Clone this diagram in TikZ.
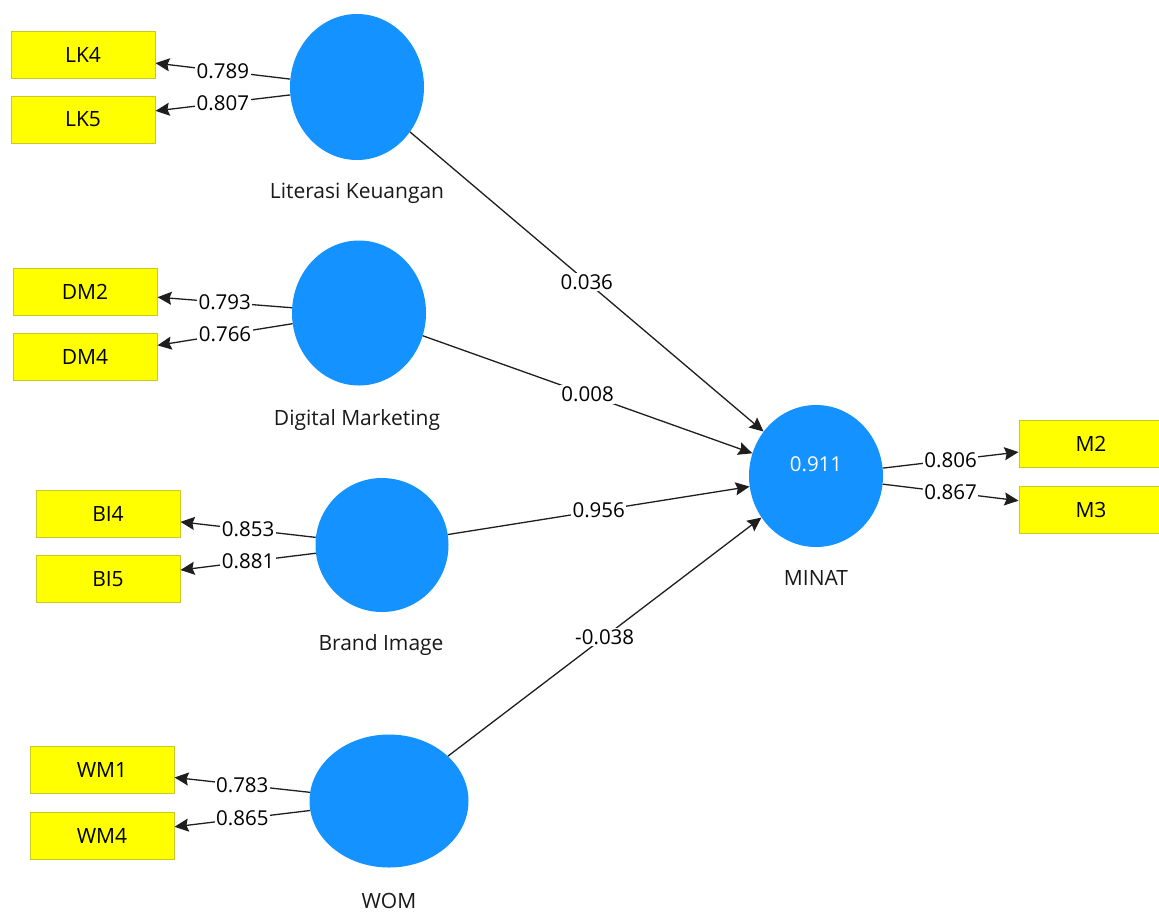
\documentclass[tikz,border=0pt]{standalone}
\usepackage{fontspec}
\setmainfont{Open Sans}
\usetikzlibrary{shapes.geometric,arrows.meta}
\definecolor{lvblue}{RGB}{20,146,255}
\definecolor{mvyellow}{RGB}{255,255,0}
\definecolor{mvborder}{RGB}{200,200,40}
\definecolor{edgegray}{RGB}{30,30,30}
\tikzset{
  latent/.style={ellipse, fill=lvblue, inner sep=0pt},
  mvbox/.style={rectangle, fill=mvyellow, draw=mvborder, line width=1pt,
    minimum width=144pt, minimum height=47pt, inner sep=0pt,
    font=\fontsize{21}{23}\selectfont},
  lvname/.style={font=\fontsize{21}{23}\selectfont, text=black!90},
  lbl/.style={fill=white, inner sep=1.5pt, font=\fontsize{20.5}{22}\selectfont, text=black},
  arr/.style={draw=edgegray, line width=1.3pt, -{Stealth[length=14pt,width=13pt,inset=2pt]}},
}
\begin{document}
\begin{tikzpicture}[x=1pt,y=-1pt]
\useasboundingbox[fill=white] (0,0) rectangle (1159,914);
% latent variables
\node[latent, minimum width=134pt, minimum height=146pt] (LK) at (357,87) {};
\node[latent, minimum width=134pt, minimum height=145pt] (DM) at (359,313) {};
\node[latent, minimum width=133pt, minimum height=134pt] (BI) at (382,545) {};
\node[latent, minimum width=159pt, minimum height=133pt] (WOM) at (389,801) {};
\node[latent, minimum width=134pt, minimum height=142pt,
  label={[text=white, font=\fontsize{20.5}{22}\selectfont, yshift=-71pt]above:0.911}] (MIN) at (816,476) {};
% names
\node[lvname] (nLK) at (357,193) {Literasi Keuangan};
\node[lvname] (nDM) at (357,420) {Digital Marketing};
\node[lvname] (nBI) at (381,645) {Brand Image};
\node[lvname] (nWOM) at (389,901) {WOM};
\node[lvname] (nMIN) at (816,578) {MINAT};
% indicators
\node[mvbox] (LK4) at (83,54.5) {LK4};
\node[mvbox] (LK5) at (83,119.5) {LK5};
\node[mvbox] (DM2) at (85,291.5) {DM2};
\node[mvbox] (DM4) at (85,357) {DM4};
\node[mvbox] (BI4) at (108,513.5) {BI4};
\node[mvbox] (BI5) at (108,579) {BI5};
\node[mvbox] (WM1) at (102,769.5) {WM1};
\node[mvbox] (WM4) at (102,835.5) {WM4};
\node[mvbox] (M2) at (1091,443.5) {M2};
\node[mvbox] (M3) at (1091,509.5) {M3};
% outer loadings
\draw[arr] (LK) -- node[lbl]{0.789} (LK4);
\draw[arr] (LK) -- node[lbl]{0.807} (LK5);
\draw[arr] (DM) -- node[lbl]{0.793} (DM2);
\draw[arr] (DM) -- node[lbl]{0.766} (DM4);
\draw[arr] (BI) -- node[lbl]{0.853} (BI4);
\draw[arr] (BI) -- node[lbl]{0.881} (BI5);
\draw[arr] (WOM) -- node[lbl]{0.783} (WM1);
\draw[arr] (WOM) -- node[lbl]{0.865} (WM4);
\draw[arr] (MIN) -- node[lbl]{0.806} (M2);
\draw[arr] (MIN) -- node[lbl]{0.867} (M3);
% path coefficients
\draw[arr] (LK) -- node[lbl]{0.036} (MIN);
\draw[arr] (DM) -- node[lbl]{0.008} (MIN);
\draw[arr] (BI) -- node[lbl]{0.956} (MIN);
\draw[arr] (WOM) -- node[lbl]{-0.038} (MIN);
\end{tikzpicture}
\end{document}
